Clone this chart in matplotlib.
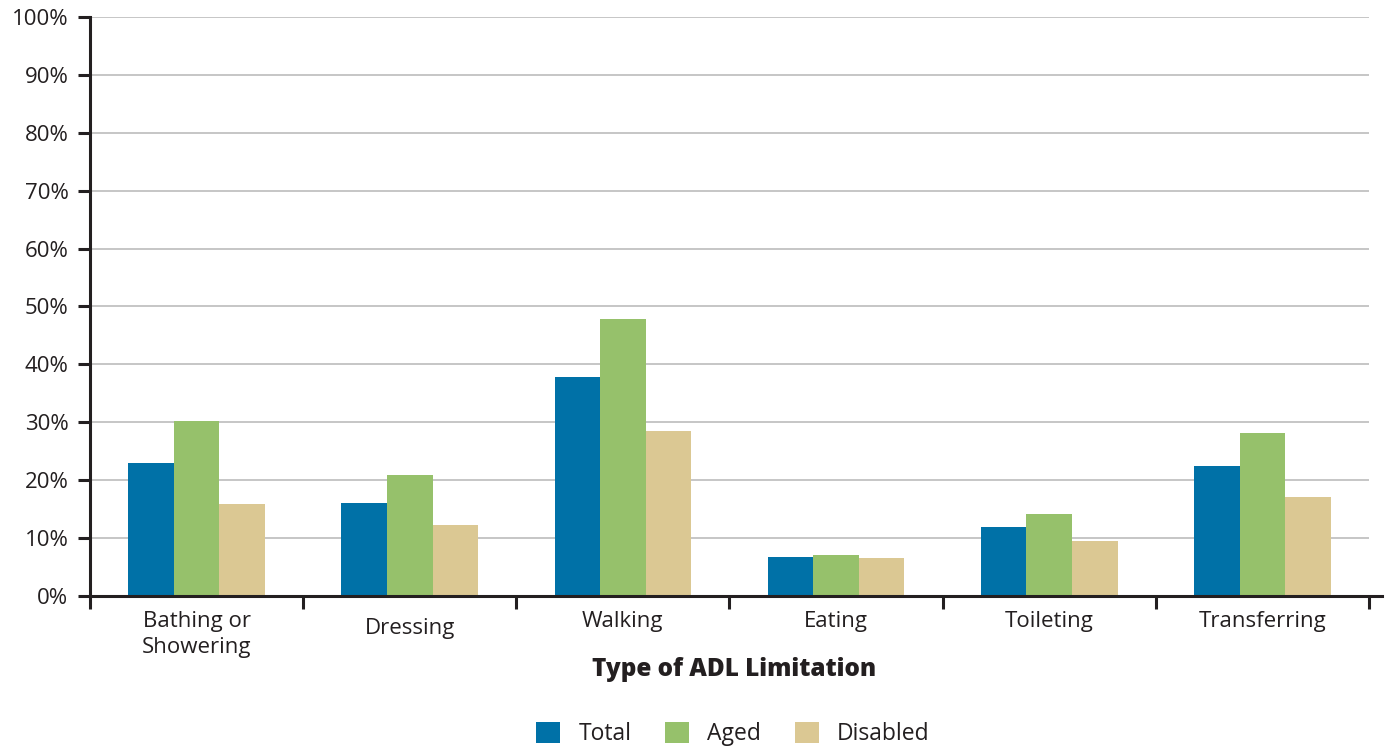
import matplotlib
matplotlib.use("Agg")
import matplotlib.pyplot as plt
from matplotlib.transforms import ScaledTranslation
import numpy as np

categories = ["Bathing or\nShowering", "Dressing", "Walking", "Eating", "Toileting", "Transferring"]
total = [23.0, 16.1, 37.8, 6.7, 11.9, 22.5]
aged = [30.2, 20.9, 47.8, 7.1, 14.2, 28.2]
disabled = [15.9, 12.3, 28.5, 6.6, 9.5, 17.1]
series_names = ["Total", "Aged", "Disabled"]
colors = ["#0071a7", "#96c16b", "#dbc893"]
yticks = list(range(0, 101, 10))

plt.rcParams["font.family"] = ["Open Sans", "DejaVu Sans"]
ink = "#231f20"

fig = plt.figure(figsize=(13.87, 7.52), dpi=100)
W, H = 1387, 752
ax = fig.add_axes([90 / W, (H - 596) / H, (1382 - 90) / W, (596 - 17) / H])

n = len(categories)
centers = np.arange(n) + 0.5
bw = 0.2135
handles = []
for i, (vals, name, c) in enumerate(zip([total, aged, disabled], series_names, colors)):
    h = ax.bar(centers + (i - 1) * bw, vals, width=bw, color=c, label=name,
               linewidth=0, zorder=3)
    handles.append(h)

ax.set_xlim(0, n + 13 / 213)
ax.set_ylim(0, 100)
ax.hlines(yticks[1:], 0, n, colors="#c2c2c2", linewidth=1.3, zorder=1)

for s in ["top", "right"]:
    ax.spines[s].set_visible(False)
for s in ["left", "bottom"]:
    ax.spines[s].set_color(ink)
    ax.spines[s].set_linewidth(2.2)
ax.spines["bottom"].set_zorder(4)

ax.set_yticks(yticks)
ax.set_yticklabels([f"{v}%" for v in yticks])
ax.tick_params(axis="y", direction="out", length=8.5, width=2.2, color=ink,
               pad=7, labelsize=16, labelcolor=ink)

ax.set_xticks(centers)
ax.set_xticklabels(categories, linespacing=1.3)
ax.set_xticks(np.arange(n + 1), minor=True)
ax.tick_params(axis="x", which="major", length=0, pad=11, labelsize=16, labelcolor=ink)
ax.tick_params(axis="x", which="minor", direction="out", length=9, width=2.2, color=ink)

# Nudge the single-line "Dressing" label down a little
for lbl in ax.get_xticklabels():
    if lbl.get_text() == "Dressing":
        lbl.set_transform(lbl.get_transform() + ScaledTranslation(0, -5 / 72, fig.dpi_scale_trans))

fig.text(734 / W, 1 - 669 / H, "Type of ADL Limitation", ha="center", va="center",
         fontsize=17.5, fontweight="heavy", color=ink)

fig.legend(handles=handles, labels=series_names, loc="center", ncol=3,
           bbox_to_anchor=(733 / W, 1 - 734 / H), frameon=False, fontsize=16.5,
           handlelength=1.05, handleheight=1.05, handletextpad=0.8, columnspacing=1.45,
           labelcolor=ink)

fig.savefig("out.png", dpi=100)
